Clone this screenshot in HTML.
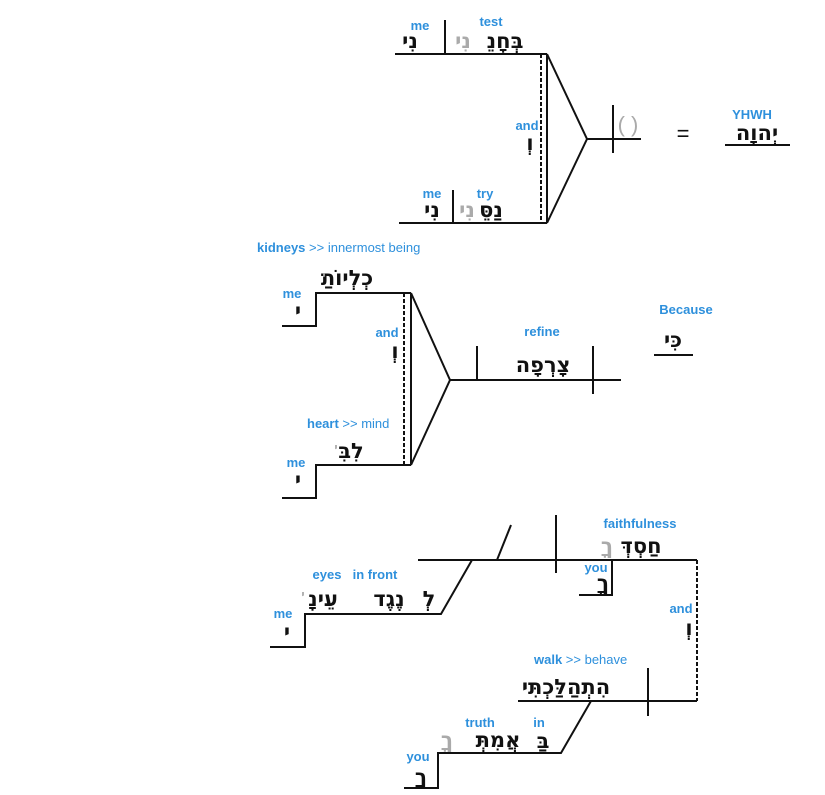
<!DOCTYPE html>
<html><head><meta charset="utf-8"><style>
html,body{margin:0;padding:0;background:#fff;}
svg{display:block}
.l{font-family:"Liberation Sans","DejaVu Sans",sans-serif;font-size:13px;font-weight:bold;fill:#2e90dc;text-anchor:middle}
.n{font-weight:normal}
.h{font-family:"DejaVu Sans","Liberation Sans",sans-serif;font-size:21px;font-weight:bold;fill:#111;text-anchor:middle}
.g{fill:#aaa}
</style></head><body>
<svg width="825" height="795" viewBox="0 0 825 795" xmlns="http://www.w3.org/2000/svg">
<g stroke="#111" stroke-width="2" fill="none">
<path d="M395 54H547M445 20V54M399 223H547M453 190V223M547 54V223M547 54L587 139L547 223M587 139H641M613 105V153M725 145H790"/>
<path d="M541 54V223" stroke-dasharray="4,2"/>
<path d="M282 326H316V293H411M282 498H316V465H411M411 293V465M411 293L450 380L411 465M450 380H621M477 346V380M593 346V394M654 355H693"/>
<path d="M404 293V465" stroke-dasharray="4,2"/>
<path d="M418 560H697M497 560L511 525M556 515V573M579 595H612V560M518 701H697M648 668V716M591 701L561 753H438V788H404M472 560L441 614H305V647H270"/>
<path d="M697 560V701" stroke-dasharray="4,2"/>
</g>
<text class="l" x="420" y="30">me</text><text class="h" x="410" y="48">נִי</text>
<text class="l" x="491" y="26">test</text><text class="h" x="505" y="48">בְּחָנֵ</text><text class="h g" x="463" y="48">נִי</text>
<text class="l" x="432" y="198">me</text><text class="h" x="432" y="217">נִי</text>
<text class="l" x="485" y="198">try</text><text class="h" x="491" y="217">נַסֵּ</text><text class="h g" x="467" y="217">נִי</text>
<text class="l" x="527" y="130">and</text><text class="h" x="530" y="150">וְ</text>
<text x="628" y="132" style="font-family:'Liberation Sans',sans-serif;font-size:22px;fill:#aaa;text-anchor:middle">( )</text>
<text x="683" y="141" style="font-family:'Liberation Sans',sans-serif;font-size:22px;fill:#111;text-anchor:middle">=</text>
<text class="l" x="752" y="119">YHWH</text><text class="h" x="757" y="140">יְהוָה</text>
<text class="l" x="257" y="252" style="text-anchor:start">kidneys <tspan class="n">&gt;&gt; innermost being</tspan></text>
<text class="h" x="347" y="285">כְלְיוֹתַ</text><text class="h g" x="324" y="279" style="font-size:11px">י</text>
<text class="l" x="292" y="298">me</text><text class="h" x="298" y="318">י</text>
<text class="l" x="387" y="337">and</text><text class="h" x="395" y="358">וְ</text>
<text class="l" x="542" y="336">refine</text><text class="h" x="543" y="372">צָרְפָה</text>
<text class="l" x="686" y="314">Because</text><text class="h" x="673" y="347">כִּי</text>
<text class="l" x="307" y="428" style="text-anchor:start">heart <tspan class="n">&gt;&gt; mind</tspan></text>
<text class="h" x="351" y="458">לִבִּ</text><text class="h g" x="336" y="451" style="font-size:11px">י</text>
<text class="l" x="296" y="467">me</text><text class="h" x="298" y="487">י</text>
<text class="l" x="640" y="528">faithfulness</text><text class="h" x="641" y="553">חַסְדְּ</text><text class="h g" x="607" y="553">ךָ</text>
<text class="l" x="596" y="572">you</text><text class="h" x="603" y="590">ךָ</text>
<text class="l" x="681" y="613">and</text><text class="h" x="689" y="635">וְ</text>
<text class="l" x="534" y="664" style="text-anchor:start">walk <tspan class="n">&gt;&gt; behave</tspan></text>
<text class="h" x="566" y="694">הִתְהַלַּכְתִּי</text>
<text class="l" x="480" y="727">truth</text><text class="h" x="498" y="747">אֲמִתְּ</text><text class="h g" x="447" y="747">ךָ</text>
<text class="l" x="539" y="727">in</text><text class="h" x="543" y="748">בַּ</text>
<text class="l" x="418" y="761">you</text><text class="h" x="421" y="784">ךָ</text>
<text class="l" x="327" y="579">eyes</text><text class="h" x="323" y="606">עֵינָ</text><text class="h g" x="303" y="598" style="font-size:11px">י</text>
<text class="l" x="375" y="579">in front</text><text class="h" x="389" y="606">נֶגֶד</text><text class="h" x="429" y="606">לְ</text>
<text class="l" x="283" y="618">me</text><text class="h" x="287" y="639">י</text>
</svg>
</body></html>
